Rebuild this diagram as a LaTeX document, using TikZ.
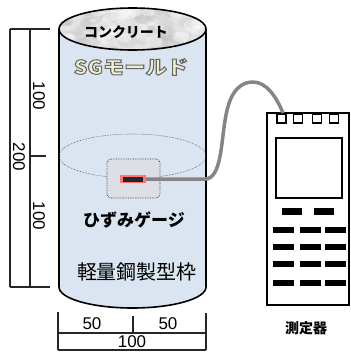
\documentclass[tikz,border=0pt]{standalone}
\usepackage{fontspec}
\usetikzlibrary{calc}
\setmainfont{Liberation Sans}
\newfontfamily\jp{Noto Sans CJK JP}
\definecolor{bodyblue}{HTML}{DBE5F1}
\definecolor{moldfill}{HTML}{EEF0CC}
\definecolor{cablegray}{HTML}{858585}
\definecolor{boxfill}{HTML}{DCDFE6}
\tikzset{
  dimline/.style={line width=1.1pt, draw=black!85},
  dimlabel/.style={font=\fontsize{17}{17}\selectfont, inner sep=0pt},
  outline/.style={line width=1.6pt, draw=black},
  keybtn/.style={fill=black, draw=none},
  jplabel/.style={inner sep=0pt, font=\jp\bfseries\fontsize{#1}{#1}\selectfont},
}
% stroked lettering: fill colour from the node, grey outline via text render mode 2
\newcommand\strokedtext[1]{\special{pdf:literal direct 2 Tr 1 w 0.4 0.4 0.4 RG}#1\special{pdf:literal direct 0 Tr}}
\begin{document}
\begin{tikzpicture}[x=1pt, y=-1pt]
\useasboundingbox (0,0) rectangle (351,354);

% cylinder body
\fill[bodyblue] (59,29) -- (59,287) arc[start angle=180, end angle=0, x radius=73.5, y radius=21] -- (206,29) -- cycle;
\draw[outline] (59,29) -- (59,287) arc[start angle=180, end angle=0, x radius=73.5, y radius=21] -- (206,29);

% concrete top face
\begin{scope}
  \clip (132.5,29) ellipse[x radius=73.5, y radius=21];
  \fill[gray!22] (132.5,29) ellipse[x radius=73.5, y radius=21];
  \pgfmathsetseed{11}
  \foreach \i in {1,...,60} {
    \pgfmathsetmacro{\px}{59+147*rnd}
    \pgfmathsetmacro{\py}{8+42*rnd}
    \pgfmathsetmacro{\pr}{3+9*rnd}
    \fill[gray!60, opacity=0.2] (\px,\py) ellipse[x radius=\pr, y radius=0.6*\pr];
  }
  \foreach \i in {1,...,30} {
    \pgfmathsetmacro{\px}{59+147*rnd}
    \pgfmathsetmacro{\py}{8+42*rnd}
    \pgfmathsetmacro{\pr}{3+7*rnd}
    \fill[white, opacity=0.35] (\px,\py) ellipse[x radius=\pr, y radius=0.6*\pr];
  }
\end{scope}
\draw[outline] (132.5,29) ellipse[x radius=73.5, y radius=21];

% section plane through the gauge
\draw[black!65, line width=0.6pt, densely dotted] (132.5,156) ellipse[x radius=73.5, y radius=22];

\node[jplabel=14] (concrete) at (126,32) {コンクリート};

% mold name, outlined lettering
\node[jplabel=19, text=moldfill, xscale=1.12] (mold) at (131,67) {\strokedtext{SGモールド}};

% strain gauge
\node[draw=black!80, densely dotted, line width=0.7pt, rounded corners=4pt, fill=boxfill,
      minimum width=53pt, minimum height=39pt, inner sep=0pt] (gaugebox) at (133.5,178.5) {};
\node[fill=red!55!white, minimum width=26pt, minimum height=8pt, inner sep=0pt] (gauge) at (133,179) {};
\node[fill=black!85, minimum width=20pt, minimum height=5pt, inner sep=0pt] (gaugecore) at (133,179.5) {};

\node[jplabel=17] (gaugelabel) at (134,220) {ひずみゲージ};
\node[inner sep=0pt, font=\jp\fontsize{20}{20}\selectfont] (formlabel) at (137,272) {軽量鋼製型枠};

% measuring instrument
\node[draw=black, line width=2pt, minimum width=82pt, minimum height=192pt, inner sep=0pt] (meter) at (308,209) {};
\coordinate (plug) at (283,113);
\foreach \x in {281.5,298,317,334}
  \draw[line width=1.2pt] (\x-4.5,114) rectangle (\x+4.5,123);
\node[draw=black, line width=1.2pt, minimum width=66pt, minimum height=60pt, inner sep=0pt] (screen) at (309,168) {};
\foreach \x in {292,324}
  \fill[keybtn] (\x-10,208) rectangle (\x+10,215);
\foreach \y in {230,247,264,283}
  \foreach \x in {284,311,336}
    \fill[keybtn] (\x-11,\y-3.2) rectangle (\x+10,\y+3.2);
\node[jplabel=14] (meterlabel) at (306,328) {測定器};

% cable from gauge to instrument
\draw[cablegray, line width=3.5pt] (gauge.east) -- (205,179)
  .. controls (222,179) and (221,140) .. (226,115)
  .. controls (231,88) and (243,82) .. (253,82)
  .. controls (266,82) and (276,96) .. (plug);

% height dimensions
\draw[dimline] (10,29) -- (50,29);
\draw[dimline] (10,287) -- (50,287);
\draw[dimline] (10,29) -- (10,287);
\draw[dimline] (30,29) -- (30,287);
\draw[dimline] (30,156) -- (46,156);
\node[dimlabel, rotate=-90] (h1) at (39,96) {100};
\node[dimlabel, rotate=-90] (h2) at (19,157) {200};
\node[dimlabel, rotate=-90] (h3) at (39,216) {100};

% width dimensions
\draw[dimline] (58,312) -- (58,350);
\draw[dimline] (206,313) -- (206,350);
\draw[dimline] (58,333) -- (206,333);
\draw[dimline] (58,350) -- (206,350);
\draw[dimline] (133,316) -- (133,333);
\node[dimlabel] (w1) at (92,324) {50};
\node[dimlabel] (w2) at (168,324) {50};
\node[dimlabel] (w3) at (132,342) {100};
\end{tikzpicture}
\end{document}
